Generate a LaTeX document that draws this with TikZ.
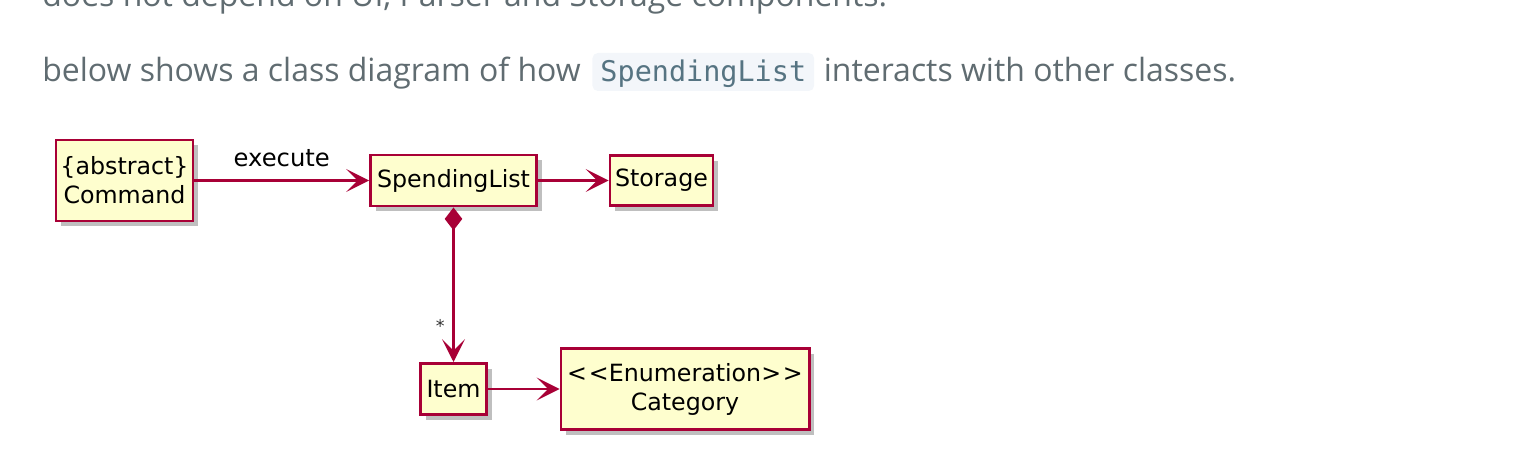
\documentclass[tikz,border=0pt]{standalone}
\usepackage{fontspec}
\setmainfont{DejaVu Sans}
\newfontfamily\bodyfont{Open Sans}
\newfontfamily\codefont{DejaVu Sans Mono}
\usetikzlibrary{arrows.meta,shadows,positioning}
\definecolor{umlred}{HTML}{A80036}
\definecolor{umlfill}{HTML}{FEFECE}
\definecolor{pagetext}{HTML}{606C71}
\definecolor{codetext}{HTML}{567482}
\definecolor{codebg}{HTML}{F3F6FA}
\tikzset{
  umlclass/.style={draw=umlred,line width=1.7pt,fill=umlfill,align=center,inner sep=2pt,
    font=\fontsize{13.5}{16.5}\selectfont,
    drop shadow={shadow xshift=3pt,shadow yshift=-3pt,fill=black,opacity=0.25}},
  umlarrow/.style={-{Stealth[length=13pt,width=13pt,inset=6.5pt]},draw=umlred,line width=1.3pt},
  umlcompose/.style={{Diamond[length=13pt,width=10pt]}-{Stealth[length=13pt,width=13pt,inset=6.5pt]},draw=umlred,line width=1.3pt},
  pagetextstyle/.style={anchor=base west,inner sep=0pt,text=pagetext,font=\bodyfont\fontsize{18.2}{22}\selectfont},
}
\begin{document}
\begin{tikzpicture}
\useasboundingbox (0,0) rectangle (30.44,-9.24);
% page text around the diagram
\begin{scope}
\clip (0,0) rectangle (30.44,-9.24);
\node[pagetextstyle] (prevline) at (0.84,-0.14) {does not depend on UI, Parser and Storage components.};
\end{scope}
\node[pagetextstyle] (intro) at (0.84,-1.64) {below shows a class diagram of how};
\node[anchor=base west,fill=codebg,rounded corners=3pt,text=codetext,font=\codefont\fontsize{16.2}{20}\selectfont,
  inner xsep=0.16cm,inner ysep=0pt,text height=0.58cm,text depth=0.18cm] (code) at ([xshift=0.22cm]intro.base east) {SpendingList};
\node[pagetextstyle] (outro) at ([xshift=0.18cm]code.base east) {interacts with other classes.};
% classes
\node[umlclass,minimum width=2.74cm,minimum height=1.62cm] (command) at (2.49,-3.61) {\{abstract\}\\Command};
\node[umlclass,minimum width=3.32cm,minimum height=1.02cm] (spending) at (9.07,-3.61) {SpendingList};
\node[umlclass,minimum width=2.06cm,minimum height=1.0cm] (storage) at (13.23,-3.61) {Storage};
\node[umlclass,minimum width=1.32cm,minimum height=1.02cm] (item) at (9.07,-7.78) {Item};
\node[umlclass,minimum width=4.96cm,minimum height=1.62cm] (category) at (13.70,-7.78) {<\kern1pt<Enumeration>\kern1pt>\\Category};
% relations
\draw[umlarrow] (command) -- node[midway,above=4pt,font=\fontsize{13.8}{16}\selectfont] (execlbl) {execute} (spending);
\draw[umlarrow] (spending) -- (storage);
\draw[umlcompose] (spending) -- node[pos=0.77,left=1pt,font=\fontsize{10}{12}\selectfont,text=black!80] (mult) {*} (item);
\draw[umlarrow] (item) -- (category);
\end{tikzpicture}
\end{document}
